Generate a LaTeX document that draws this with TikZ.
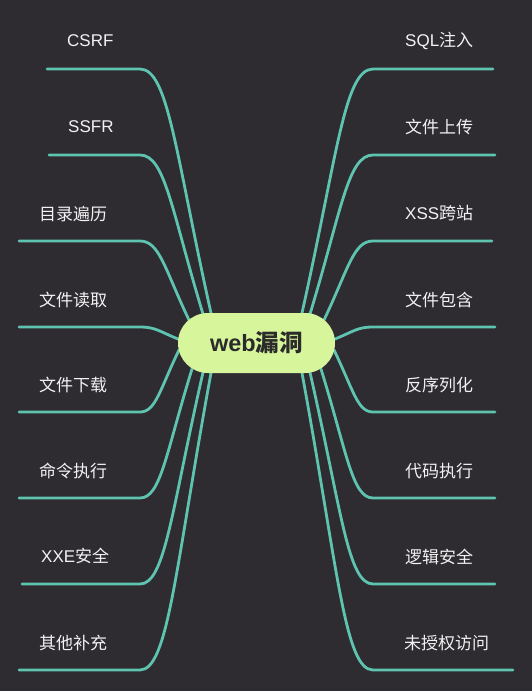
\documentclass[tikz,border=0pt]{standalone}
\usepackage{fontspec}
\setmainfont{Liberation Sans}
\newfontfamily\cjk{Noto Sans CJK SC}
\usetikzlibrary{calc}
\definecolor{bgc}{HTML}{2E2B31}
\definecolor{teal1}{HTML}{5EC4B0}
\definecolor{pillc}{HTML}{D7F59A}
\definecolor{pilltext}{HTML}{2B2B2B}
\definecolor{labc}{HTML}{F2F2F2}
\pgfdeclarelayer{bglayer}
\pgfdeclarelayer{linelayer}
\pgfsetlayers{bglayer,linelayer,main}
\newcommand\mybranch[3]{%
  \draw[branchline] let \p1=(#2), \p2=(#3) in
    (#1) -- (#2)
    .. controls ({\x1+0.4*(\x2-\x1)},{\y1}) and ({\x1+0.5*(\x2-\x1)},{\y1+0.35*(\y2-\y1)}) .. (#3);%
}
\begin{document}
\begin{tikzpicture}[x=1pt,y=-1pt,
  branchline/.style={draw=teal1, line width=2.8pt, line cap=round},
  lab/.style={text=labc, font=\fontsize{17}{20}\selectfont, inner sep=0pt, anchor=west},
  pill/.style={fill=pillc, rounded corners=29.9pt, minimum width=157pt, minimum height=60pt,
    inner sep=0pt, text=pilltext, font=\bfseries\fontsize{23.5}{28}\selectfont}]
\begin{pgfonlayer}{bglayer}
\fill[bgc] (0,0) rectangle (532,691);
\end{pgfonlayer}
\useasboundingbox (0,0) rectangle (532,691);

\node[pill] (web) at (256.5,343) {web{\cjk\bfseries 漏洞}};

% left line ends and bends
\coordinate (ls1) at (47,69);   \coordinate (lb1) at (140,69);
\coordinate (ls2) at (49,155);  \coordinate (lb2) at (140,155);
\coordinate (ls3) at (19,241);  \coordinate (lb3) at (140,241);
\coordinate (ls4) at (19,327);  \coordinate (lb4) at (140,327);
\coordinate (ls5) at (19,412);  \coordinate (lb5) at (140,412);
\coordinate (ls6) at (19,498);  \coordinate (lb6) at (140,498);
\coordinate (ls7) at (22,584);  \coordinate (lb7) at (140,584);
\coordinate (ls8) at (19,670);  \coordinate (lb8) at (140,670);
% right line ends and bends
\coordinate (rs1) at (493,69);  \coordinate (rb1) at (373,69);
\coordinate (rs2) at (495,155); \coordinate (rb2) at (373,155);
\coordinate (rs3) at (492,241); \coordinate (rb3) at (373,241);
\coordinate (rs4) at (495,327); \coordinate (rb4) at (373,327);
\coordinate (rs5) at (495,412); \coordinate (rb5) at (373,412);
\coordinate (rs6) at (495,498); \coordinate (rb6) at (373,498);
\coordinate (rs7) at (495,584); \coordinate (rb7) at (373,584);
\coordinate (rs8) at (513,670); \coordinate (rb8) at (373,670);
% attachment points on the central node
\coordinate (la1) at (211,313);   \coordinate (ra1) at (302,313);
\coordinate (la2) at (203,314);   \coordinate (ra2) at (310,314);
\coordinate (la3) at (189,320);   \coordinate (ra3) at (324,320);
\coordinate (la4) at (178,339);   \coordinate (ra4) at (335,339);
\coordinate (la5) at (179,350);   \coordinate (ra5) at (334,350);
\coordinate (la6) at (192,369);   \coordinate (ra6) at (321,369);
\coordinate (la7) at (203,372.5); \coordinate (ra7) at (310,372.5);
\coordinate (la8) at (211,373);   \coordinate (ra8) at (302,373);

\begin{pgfonlayer}{linelayer}
\foreach \i in {1,...,8}{
  \mybranch{ls\i}{lb\i}{la\i}
  \mybranch{rs\i}{rb\i}{ra\i}
}
\end{pgfonlayer}

% left labels
\node[lab] (t1) at (67,41)  {CSRF};
\node[lab] (t2) at (68,127) {SSFR};
\node[lab] (t3) at (39,214) {\cjk 目录遍历};
\node[lab] (t4) at (39,300) {\cjk 文件读取};
\node[lab] (t5) at (39,385) {\cjk 文件下载};
\node[lab] (t6) at (39,471) {\cjk 命令执行};
\node[lab] (t7) at (41,556) {XXE{\cjk 安全}};
\node[lab] (t8) at (39,643) {\cjk 其他补充};
% right labels
\node[lab] (u1) at (405,41)  {SQL{\cjk 注入}};
\node[lab] (u2) at (405,127) {\cjk 文件上传};
\node[lab] (u3) at (405,213) {XSS{\cjk 跨站}};
\node[lab] (u4) at (405,300) {\cjk 文件包含};
\node[lab] (u5) at (405,385) {\cjk 反序列化};
\node[lab] (u6) at (405,471) {\cjk 代码执行};
\node[lab] (u7) at (405,557) {\cjk 逻辑安全};
\node[lab] (u8) at (404,643) {\cjk 未授权访问};
\end{tikzpicture}
\end{document}
